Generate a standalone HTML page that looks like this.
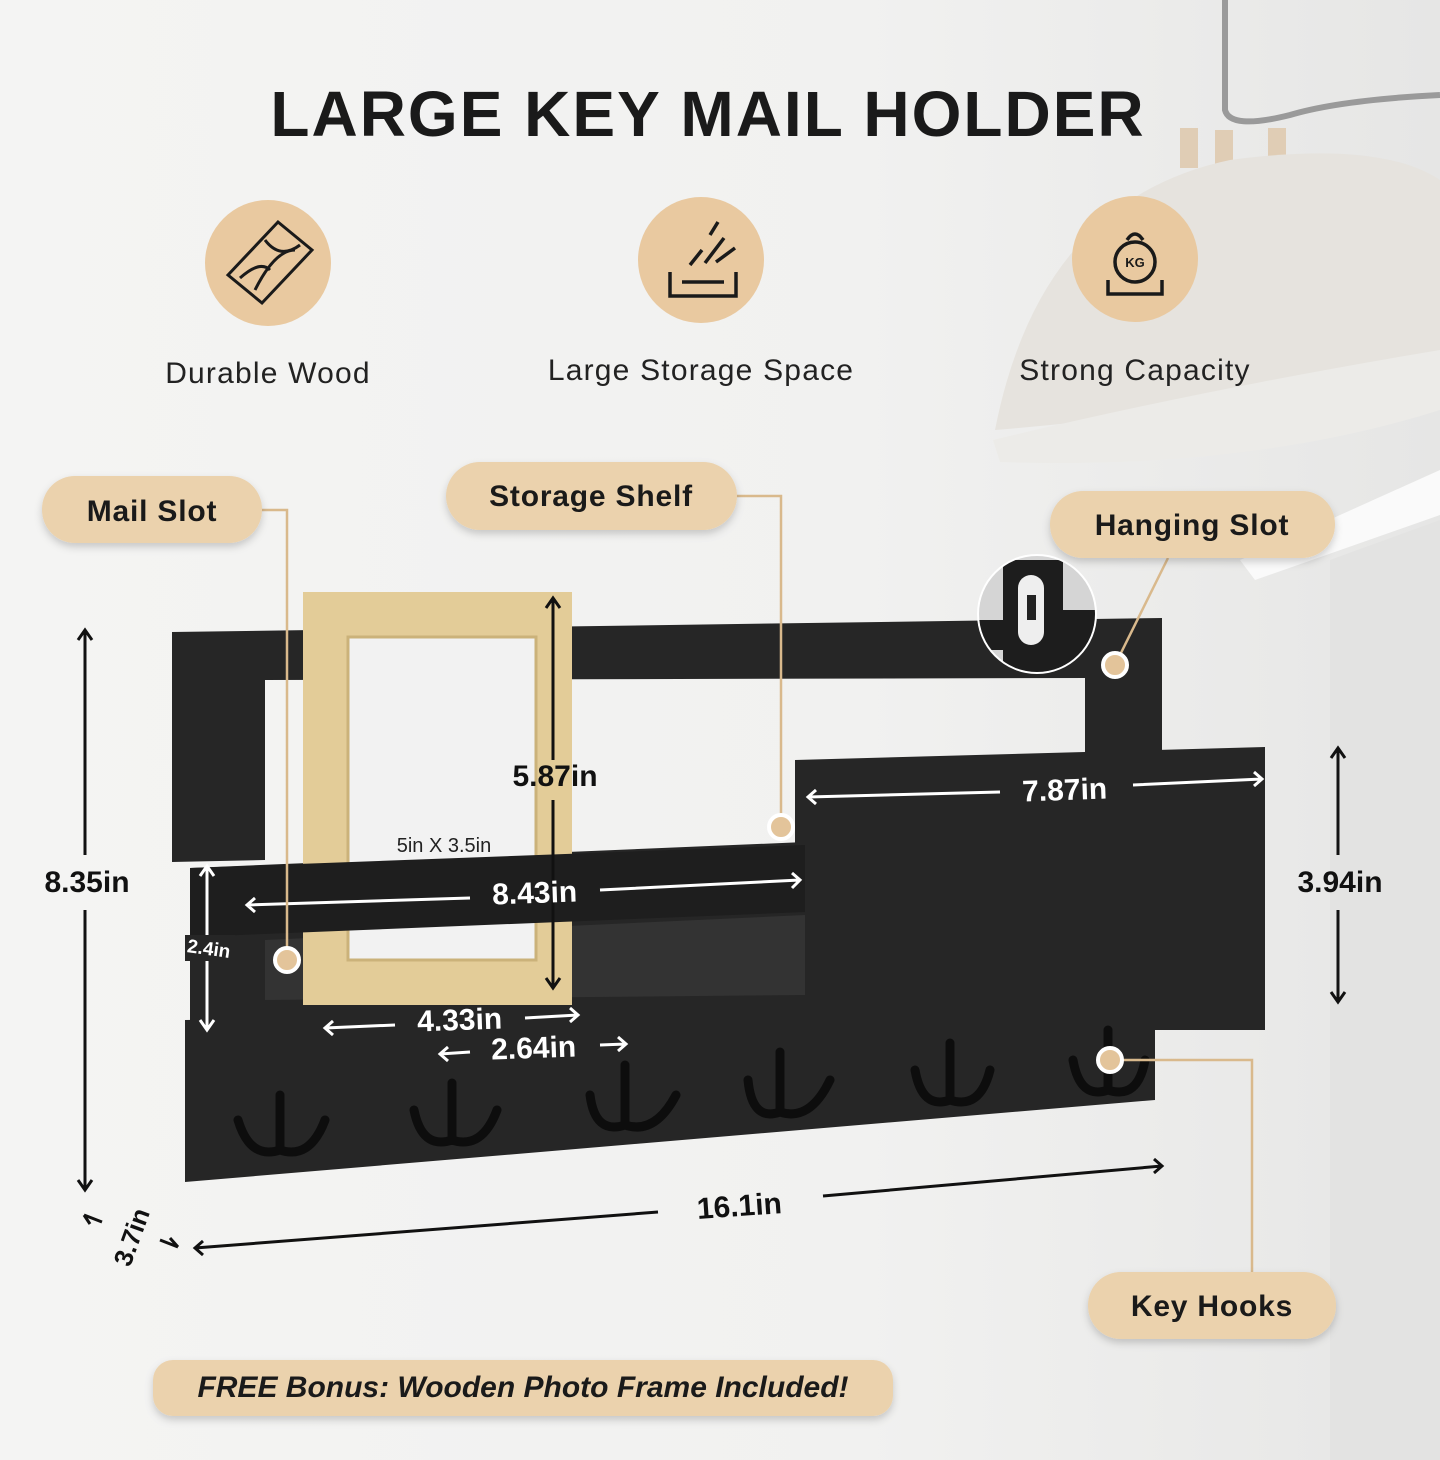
<!DOCTYPE html>
<html><head><meta charset="utf-8"><style>
html,body{margin:0;padding:0;width:1440px;height:1460px;overflow:hidden;background:#f3f3f2}
svg{display:block}
text{font-family:"Liberation Sans",sans-serif}
</style></head><body>
<svg width="1440" height="1460" viewBox="0 0 1440 1460">
<defs>
<linearGradient id="bg" x1="0" y1="0" x2="1" y2="0"><stop offset="0" stop-color="#f4f4f3"/><stop offset="0.6" stop-color="#f1f1f0"/><stop offset="1" stop-color="#e6e6e5"/></linearGradient>
<filter id="sh" x="-10%" y="-20%" width="120%" height="150%"><feDropShadow dx="0" dy="4" stdDeviation="4" flood-color="#000" flood-opacity="0.18"/></filter>
<clipPath id="cc"><circle cx="1037" cy="614" r="58"/></clipPath>
</defs>
<rect width="1440" height="1460" fill="url(#bg)"/>
<polygon points="1330,560 1440,520 1440,1460 1330,1460" fill="#e3e3e2"/>
<polygon points="1255,580 1440,515 1440,470 1240,560" fill="#fafafa"/>
<!-- lamp -->
<path d="M1225,0 L1225,110 Q1230,130 1290,115 Q1340,100 1440,95" stroke="#9a9a9a" stroke-width="6" fill="none"/>
<rect x="1180" y="128" width="18" height="40" fill="#e0cdb5"/><rect x="1268" y="128" width="18" height="40" fill="#e0cdb5"/><rect x="1215" y="130" width="18" height="38" fill="#e0cdb5"/>
<path d="M995,430 Q1040,200 1230,160 Q1380,140 1440,180 L1440,360 Q1240,410 995,430 Z" fill="#e6e3de"/>
<path d="M993,440 Q1200,390 1440,350 L1440,410 Q1250,470 1000,462 Z" fill="#ecebe8"/>
<!-- title -->
<text x="708" y="136" text-anchor="middle" font-size="64" font-weight="bold" fill="#1a1a1a" letter-spacing="2">LARGE KEY MAIL HOLDER</text>
<!-- icons -->
<circle cx="268" cy="263" r="63" fill="#e9c9a0"/>
<g stroke="#1a1a1a" stroke-width="3" fill="none"><path d="M228,275 L278,222 L312,250 L262,303 Z"/><path d="M240,278 Q260,260 270,270 M255,290 Q275,250 295,250 M265,240 Q280,260 300,245"/></g>
<circle cx="701" cy="260" r="63" fill="#e9c9a0"/>
<g stroke="#1a1a1a" stroke-width="3.5" fill="none"><path d="M670,272 L670,296 L736,296 L736,272"/><path d="M682,282 L724,282"/><path d="M690,265 L702,250 M705,263 L724,238 M716,262 L735,248 M710,235 L718,222"/></g>
<circle cx="1135" cy="259" r="63" fill="#e9c9a0"/>
<g stroke="#1a1a1a" stroke-width="3.5" fill="none"><circle cx="1135" cy="262" r="20"/><path d="M1127,240 Q1135,228 1143,240"/><path d="M1108,280 L1108,294 L1162,294 L1162,280"/></g>
<text x="1135" y="267" text-anchor="middle" font-size="13" font-weight="bold" fill="#1a1a1a">KG</text>
<g font-size="30" fill="#222" text-anchor="middle" letter-spacing="1.2">
<text x="268" y="383">Durable Wood</text>
<text x="701" y="380">Large Storage Space</text>
<text x="1135" y="380">Strong Capacity</text>
</g>
<!-- board -->
<g fill="#262626">
<polygon points="172,632 1162,618 1162,760 1085,760 1085,678 265,680 265,860 172,862"/>
<polygon points="185,1020 1155,1008 1155,1100 185,1182"/>
<polygon points="190,868 805,842 805,1030 190,1030"/>
<polygon points="795,760 1265,747 1265,1030 795,1030"/>
</g>
<polygon points="265,940 805,915 805,995 265,1000" fill="#333"/>
<!-- hooks -->
<g stroke="#0d0d0d" stroke-width="9" fill="none" stroke-linecap="round">
<path d="M280,1095 L280,1150 M280,1150 Q250,1160 238,1120 M280,1150 Q310,1160 325,1120"/>
<path d="M452,1083 L452,1140 M452,1140 Q422,1150 414,1110 M452,1140 Q482,1150 497,1110"/>
<path d="M625,1065 L625,1125 M625,1125 Q595,1135 590,1095 M625,1125 Q655,1135 676,1095"/>
<path d="M780,1052 L780,1112 M780,1112 Q752,1122 748,1080 M780,1112 Q810,1122 830,1080"/>
<path d="M950,1043 L950,1100 M950,1100 Q922,1110 915,1070 M950,1100 Q980,1110 990,1070"/>
<path d="M1108,1030 L1108,1090 M1108,1090 Q1080,1100 1073,1060 M1108,1090 Q1138,1100 1145,1060"/>
</g>
<!-- photo frame -->
<rect x="303" y="592" width="269" height="413" fill="#e3cc98"/>
<rect x="348" y="637" width="188" height="323" fill="#f2f2f2" stroke="#cbb27a" stroke-width="3"/>
<text x="444" y="852" text-anchor="middle" font-size="20" fill="#222">5in X 3.5in</text>
<!-- shelf front (in front of frame) -->
<polygon points="190,868 805,845 805,912 190,937" fill="#1e1e1e"/>
<!-- hanging zoom -->
<circle cx="1037" cy="614" r="60" fill="#fff"/>
<g clip-path="url(#cc)"><rect x="970" y="550" width="140" height="130" fill="#d5d5d5"/><rect x="1003" y="560" width="60" height="120" fill="#1d1d1d"/><rect x="1060" y="610" width="50" height="70" fill="#1d1d1d"/><rect x="970" y="620" width="40" height="30" fill="#1d1d1d"/><rect x="1018" y="575" width="26" height="70" rx="13" fill="#eee"/><rect x="1027" y="595" width="9" height="25" fill="#222"/></g>
<!-- dimension lines (dark) -->
<g stroke="#111" stroke-width="3" fill="none">
<path d="M85,632 L85,855 M85,910 L85,1188"/><path d="M78,640 L85,630 L92,640 M78,1180 L85,1190 L92,1180"/>
<path d="M553,600 L553,760 M553,800 L553,986 M546,608 L553,598 L560,608 M546,978 L553,988 L560,978"/>
<path d="M1338,750 L1338,855 M1338,910 L1338,1000 M1331,758 L1338,748 L1345,758 M1331,992 L1338,1002 L1345,992"/>
<path d="M195,1248 L658,1212 M823,1196 L1162,1166 M203,1241 L195,1248 L203,1255 M1154,1159 L1162,1166 L1154,1173"/>
<path d="M84,1215 L102,1222 M84,1215 L90,1224 M160,1240 L178,1247 M178,1247 L170,1238"/>
</g>
<!-- dimension lines (white on black) -->
<g stroke="#fff" stroke-width="3" fill="none">
<path d="M207,868 L207,1028 M200,876 L207,866 L214,876 M200,1020 L207,1030 L214,1020"/>
<path d="M247,905 L470,898 M600,890 L800,880 M255,898 L247,905 L255,912 M792,873 L800,880 L792,888"/>
<path d="M808,797 L1000,792 M1133,785 L1262,779 M816,790 L808,797 L816,804 M1254,772 L1262,779 L1254,786"/>
<path d="M325,1028 L395,1025 M525,1018 L578,1015 M333,1021 L325,1028 L333,1035 M570,1008 L578,1015 L570,1022"/>
<path d="M440,1054 L470,1052 M600,1045 L626,1044 M448,1047 L440,1054 L448,1061 M618,1037 L626,1044 L618,1051"/>
</g>
<g font-weight="bold" fill="#111">
<text x="87" y="892" text-anchor="middle" font-size="30">8.35in</text>
<text x="555" y="786" text-anchor="middle" font-size="30">5.87in</text>
<text x="1340" y="892" text-anchor="middle" font-size="30">3.94in</text>
<text x="740" y="1216" text-anchor="middle" font-size="30" transform="rotate(-4 740 1216)">16.1in</text>
<text x="140" y="1240" text-anchor="middle" font-size="26" transform="rotate(-70 140 1240)">3.7in</text>
</g>
<rect x="185" y="935" width="50" height="26" fill="#262626"/>
<g font-weight="bold" fill="#fff">
<text x="208" y="955" text-anchor="middle" font-size="19" transform="rotate(8 208 955)">2.4in</text>
<text x="535" y="903" text-anchor="middle" font-size="30" transform="rotate(-2 535 903)">8.43in</text>
<text x="1065" y="800" text-anchor="middle" font-size="30" transform="rotate(-2 1065 800)">7.87in</text>
<text x="460" y="1030" text-anchor="middle" font-size="30" transform="rotate(-2 460 1030)">4.33in</text>
<text x="534" y="1058" text-anchor="middle" font-size="30" transform="rotate(-2 534 1058)">2.64in</text>
</g>
<!-- leader lines -->
<g stroke="#d9b98c" stroke-width="2.5" fill="none">
<path d="M262,510 L287,510 L287,958"/><path d="M737,496 L781,496 L781,826"/><path d="M1168,558 L1115,665"/><path d="M1115,1060 L1252,1060 L1252,1272"/>
</g>
<g fill="#e3c49a" stroke="#fff" stroke-width="4">
<circle cx="287" cy="960" r="12"/><circle cx="781" cy="827" r="12"/><circle cx="1115" cy="665" r="12"/><circle cx="1110" cy="1060" r="12"/>
</g>
<!-- pills -->
<g fill="#ebd2ad" filter="url(#sh)">
<rect x="42" y="476" width="220" height="67" rx="33"/>
<rect x="446" y="462" width="291" height="68" rx="34"/>
<rect x="1050" y="491" width="285" height="67" rx="33"/>
<rect x="1088" y="1272" width="248" height="67" rx="33"/>
<rect x="153" y="1360" width="740" height="56" rx="20"/>
</g>
<g font-weight="bold" fill="#1a1a1a" font-size="30" text-anchor="middle" letter-spacing="0.8">
<text x="152" y="521">Mail Slot</text>
<text x="591" y="506">Storage Shelf</text>
<text x="1192" y="535">Hanging Slot</text>
<text x="1212" y="1316">Key Hooks</text>
<text x="523" y="1397" font-style="italic" font-size="30" letter-spacing="0">FREE Bonus: Wooden Photo Frame Included!</text>
</g>
</svg>
</body></html>
